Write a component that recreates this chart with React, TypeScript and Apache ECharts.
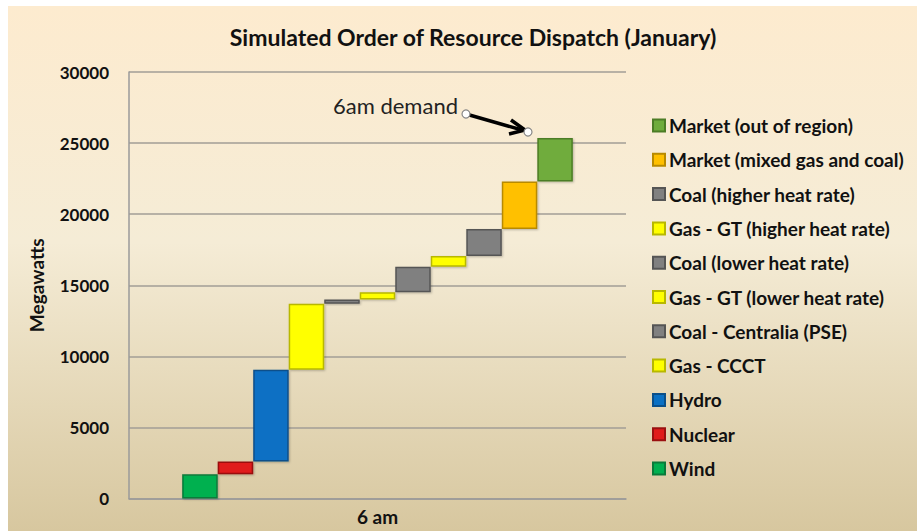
import React, { useEffect, useRef } from "react";
import * as echarts from "echarts";

const categories = ["6 am"];
const resources = [
  "Wind",
  "Nuclear",
  "Hydro",
  "Gas - CCCT",
  "Coal - Centralia (PSE)",
  "Gas - GT (lower heat rate)",
  "Coal (lower heat rate)",
  "Gas - GT (higher heat rate)",
  "Coal (higher heat rate)",
  "Market (mixed gas and coal)",
  "Market (out of region)",
];
// megawatts dispatched by each resource (block heights)
const capacities = [1700, 900, 6450, 4650, 300, 500, 1800, 750, 1900, 3350, 3050];
const colors = [
  "#00b050",
  "#e01b1b",
  "#0a70c4",
  "#ffff00",
  "#808080",
  "#ffff00",
  "#808080",
  "#ffff00",
  "#808080",
  "#ffc000",
  "#6fac3c",
];
const borders = [
  "#0a7a3a",
  "#9a1010",
  "#0a4f8a",
  "#b8b800",
  "#555555",
  "#b8b800",
  "#555555",
  "#b8b800",
  "#555555",
  "#b88a00",
  "#4c7d26",
];
const yTicks = [0, 5000, 10000, 15000, 20000, 25000, 30000];

const FONT = "Lato, 'Open Sans', sans-serif";

export default function App() {
  const ref = useRef<HTMLDivElement>(null);
  useEffect(() => {
    document.documentElement.style.overflow = "hidden";
    document.body.style.overflow = "hidden";
    if (!ref.current) return;
    const chart = echarts.init(ref.current, undefined, { renderer: "svg" });

    const series: any[] = [];
    let cum = 0;
    resources.forEach((name, i) => {
      const base = cum;
      cum += capacities[i];
      series.push({
        name: "_base" + i,
        type: "bar",
        stack: "s" + i,
        silent: true,
        barGap: "0%",
        barCategoryGap: "21.4%",
        itemStyle: { color: "transparent" },
        data: [base],
        tooltip: { show: false },
      });
      series.push({
        name,
        type: "bar",
        stack: "s" + i,
        barGap: "0%",
        barCategoryGap: "21.4%",
        itemStyle: {
          color: colors[i],
          borderColor: borders[i],
          borderWidth: 1.5,
          shadowColor: "rgba(0,0,0,0.25)",
          shadowBlur: 2,
          shadowOffsetX: 1,
          shadowOffsetY: 1,
        },
        data: [capacities[i]],
      });
    });

    chart.setOption({
      animation: false,
      backgroundColor: {
        type: "linear",
        x: 0,
        y: 0,
        x2: 0,
        y2: 1,
        colorStops: [
          { offset: 0, color: "#fdebcf" },
          { offset: 0.45, color: "#f5ecd6" },
          { offset: 1, color: "#d7c79f" },
        ],
      },
      title: {
        text: "Simulated Order of Resource Dispatch (January)",
        left: 460,
        top: 14,
        textAlign: "center",
        textStyle: { fontFamily: FONT, fontWeight: "bold", fontSize: 23, color: "#111" },
      },
      legend: {
        orient: "vertical",
        left: 639,
        top: 105,
        itemWidth: 12,
        itemHeight: 12,
        itemGap: 15.3,
        icon: "rect",
        data: resources.slice().reverse(),
        textStyle: {
          fontFamily: FONT,
          fontWeight: "bold",
          fontSize: 19,
          lineHeight: 16,
          color: "#111",
          padding: [0, 0, 0, -1],
        },
      },
      grid: { left: 121, right: 291, top: 66, bottom: 32.5 },
      xAxis: {
        type: "category",
        data: categories,
        axisTick: { show: false },
        axisLine: { lineStyle: { color: "#9a9a9a", width: 1.5 } },
        axisLabel: {
          fontFamily: FONT,
          fontWeight: "bold",
          fontSize: 19,
          color: "#111",
          margin: 8,
        },
      },
      yAxis: {
        type: "value",
        min: yTicks[0],
        max: yTicks[yTicks.length - 1],
        interval: yTicks[1] - yTicks[0],
        name: "Megawatts",
        nameLocation: "middle",
        nameGap: 83,
        nameTextStyle: { fontFamily: FONT, fontWeight: "bold", fontSize: 19, color: "#111" },
        axisLine: { show: true, lineStyle: { color: "#9a9a9a", width: 1.5 } },
        axisTick: { show: false },
        splitLine: { lineStyle: { color: "#a29e96", width: 1.5 } },
        axisLabel: {
          fontFamily: FONT,
          fontWeight: "bold",
          fontSize: 17,
          color: "#111",
          margin: 20,
          formatter: (v: number) => String(v),
        },
      },
      series,
      graphic: [
        {
          type: "text",
          left: 325,
          top: 88,
          style: { text: "6am demand", fontFamily: FONT, fontSize: 22, fill: "#222" },
        },
        {
          type: "polyline",
          shape: { points: [[458, 108], [514, 124]] },
          style: { stroke: "#000", lineWidth: 3.5, fill: "none" },
        },
        {
          type: "polyline",
          shape: { points: [[503, 114], [517, 124], [501, 128]] },
          style: { stroke: "#000", lineWidth: 3.5, fill: "none", lineJoin: "miter" },
        },
        {
          type: "circle",
          shape: { cx: 458, cy: 108, r: 4 },
          style: { fill: "#fff", stroke: "#888", lineWidth: 1.2 },
        },
        {
          type: "circle",
          shape: { cx: 520, cy: 126, r: 4 },
          style: { fill: "#fff", stroke: "#888", lineWidth: 1.2 },
        },
      ],
    });
    return () => chart.dispose();
  }, []);
  return (
    <div
      ref={ref}
      style={{ position: "absolute", left: 8, top: 6, width: 909, height: 525 }}
    />
  );
}
